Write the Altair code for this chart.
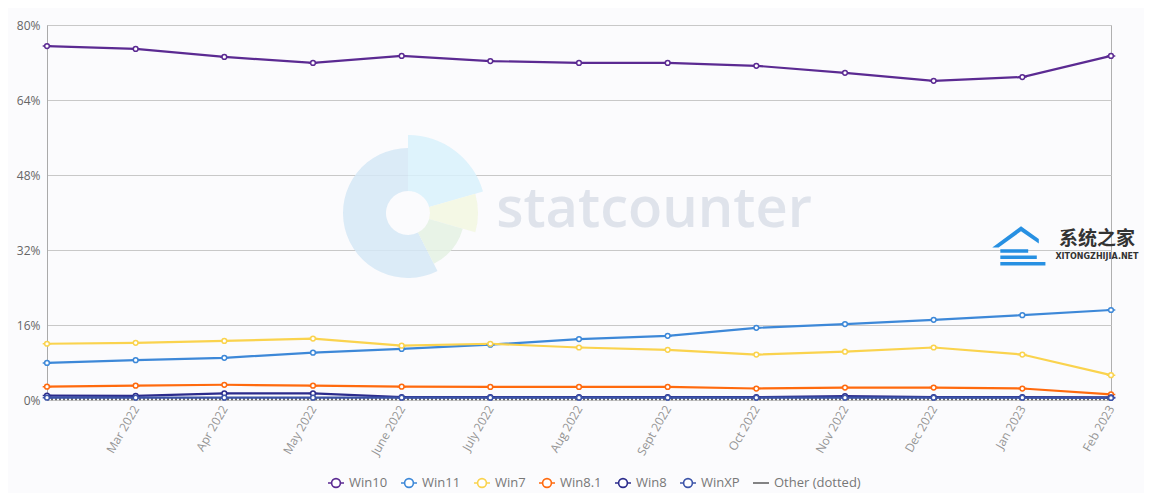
import math
import altair as alt
import pandas as pd

months = ["Feb 2022", "Mar 2022", "Apr 2022", "May 2022", "June 2022", "July 2022",
          "Aug 2022", "Sept 2022", "Oct 2022", "Nov 2022", "Dec 2022", "Jan 2023", "Feb 2023"]
series = ["Win10", "Win11", "Win7", "Win8.1", "Win8", "WinXP", "Other (dotted)"]
win10 = [75.5, 74.9, 73.2, 71.9, 73.4, 72.3, 71.9, 71.9, 71.3, 69.8, 68.1, 68.9, 73.4]
win11 = [7.9, 8.5, 9.0, 10.1, 10.9, 11.8, 13.0, 13.7, 15.4, 16.2, 17.1, 18.1, 19.2]
win7 = [12.0, 12.2, 12.6, 13.1, 11.6, 12.0, 11.2, 10.7, 9.7, 10.3, 11.2, 9.7, 5.3]
win81 = [2.85, 3.05, 3.25, 3.05, 2.85, 2.8, 2.8, 2.8, 2.45, 2.65, 2.65, 2.45, 1.2]
win8 = [0.95, 0.9, 1.4, 1.4, 0.6, 0.6, 0.6, 0.6, 0.6, 0.85, 0.6, 0.6, 0.55]
winxp = [0.5, 0.5, 0.5, 0.5, 0.5, 0.5, 0.5, 0.5, 0.5, 0.5, 0.5, 0.5, 0.45]
other = [0.2, 0.2, 0.2, 0.2, 0.2, 0.2, 0.2, 0.2, 0.2, 0.2, 0.2, 0.2, 0.2]
colors = ["#5b2a92", "#3d88d8", "#fad34e", "#ff6a0e", "#2b2b8c", "#3c54a8", "#666666"]
y_ticks = [0, 16, 32, 48, 64, 80]

rows = []
for name, vals in zip(series, [win10, win11, win7, win81, win8, winxp, other]):
    for i, (m, v) in enumerate(zip(months, vals)):
        rows.append({"month": m, "idx": i, "series": name, "value": v})
df = pd.DataFrame(rows)

x_enc = alt.X("month:O", sort=months, scale=alt.Scale(padding=0),
              axis=alt.Axis(values=months[1:], labelAngle=-60, title=None, ticks=False,
                            domain=False, labelColor="#949494", labelFontSize=12,
                            labelFont="Open Sans", labelPadding=6, grid=False))
y_enc = alt.Y("value:Q", scale=alt.Scale(domain=[0, 80], nice=False),
              axis=alt.Axis(values=y_ticks, labelExpr="datum.value + '%'", title=None,
                            ticks=False, domainColor="#aaaaaa", gridColor="#c8c8c8",
                            labelColor="#666666", labelFontSize=12, labelFont="Open Sans",
                            labelPadding=7))

circ = "M-1,0L-0.55,0M0.55,0L1,0M-0.55,0A0.55,0.55 0 1,1 0.55,0A0.55,0.55 0 1,1 -0.55,0Z"
shapes = [circ] * 6 + ["M-1,0L1,0"]

legend = alt.Legend(
    title=None, orient="none", direction="horizontal", legendX=280, legendY=449,
    labelFontSize=13, labelColor="#777777", labelFont="Open Sans", symbolSize=256,
    symbolStrokeWidth=1.6, columnPadding=9, labelOffset=4, symbolFillColor="white",
    gridAlign="none",
)

color_scale = alt.Scale(domain=series, range=colors)

lines = alt.Chart(df).transform_filter("datum.series !== 'Other (dotted)'").mark_line(strokeWidth=2.2).encode(
    x=x_enc, y=y_enc,
    color=alt.Color("series:N", sort=series, scale=color_scale, legend=legend),
    order=alt.Order("idx:Q"),
)

other_line = alt.Chart(df).transform_filter("datum.series === 'Other (dotted)'").mark_line(
    strokeWidth=2.2, strokeDash=[2, 2]
).encode(
    x=alt.X("month:O", sort=months), y="value:Q",
    color=alt.Color("series:N", sort=series, scale=color_scale, legend=legend),
    order=alt.Order("idx:Q"),
)

points = alt.Chart(df).transform_filter("datum.series !== 'Other (dotted)'").mark_point(
    filled=False, fill="white", size=74, strokeWidth=1.5, opacity=1
).encode(
    x=alt.X("month:O", sort=months), y="value:Q",
    color=alt.Color("series:N", sort=series, scale=color_scale, legend=legend),
    shape=alt.Shape("series:N", sort=series, scale=alt.Scale(domain=series, range=shapes), legend=legend),
)

# watermark (statcounter logo)
logo = pd.DataFrame({
    "t0": [math.radians(153), math.radians(0), math.radians(74), math.radians(106)],
    "t1": [math.radians(360), math.radians(74), math.radians(106), math.radians(153)],
    "r": [65, 78, 70, 57],
    "c": ["#d5e7f6", "#d8f1fb", "#f2f7e1", "#e4f1e3"],
})
arcs = alt.Chart(logo).mark_arc(opacity=0.85).encode(
    theta=alt.Theta("t0:Q", scale=None), theta2="t1:Q",
    radius=alt.Radius("r:Q", scale=None), radius2=alt.value(22),
    x=alt.value(361), y=alt.value(188),
    fill=alt.Fill("c:N", scale=None),
)
wm = pd.DataFrame({"t": ["statcounter"]})
wm_text = alt.Chart(wm).mark_text(fontSize=56, font="Open Sans", fontWeight=600,
                                  color="#dce1ea", opacity=0.9, baseline="middle").encode(
    text="t:N", x=alt.value(607), y=alt.value(185))

# watermark (系统之家)
house_path = ("M-1,0.02L0,-0.72L0.62,-0.28L0.62,-0.12L0,-0.55L-0.78,0.02Z"
              "M-0.72,0.08L0.25,0.08L0.25,0.2L-0.72,0.2Z"
              "M-0.72,0.3L0.55,0.3L0.55,0.42L-0.72,0.42Z"
              "M-0.72,0.52L0.85,0.52L0.85,0.64L-0.72,0.64Z")
house = pd.DataFrame({"k": ["icon"]})
house_mark = alt.Chart(house).mark_point(shape=house_path, filled=True, fill="#1b8ae0",
                                         size=3300, opacity=0.95, strokeWidth=0).encode(
    x=alt.value(974), y=alt.value(222))
xt = pd.DataFrame({"t": ["系统之家"]})
xt_text = alt.Chart(xt).mark_text(fontSize=19, font="Noto Sans CJK SC", fontWeight="bold",
                                  color="#333333", baseline="middle").encode(
    text="t:N", x=alt.value(1050), y=alt.value(214))
xn = pd.DataFrame({"t": ["XITONGZHIJIA.NET"]})
xn_text = alt.Chart(xn).mark_text(fontSize=8, font="DejaVu Sans", fontWeight="bold",
                                  color="#333333", baseline="middle").encode(
    text="t:N", x=alt.value(1050), y=alt.value(232))

chart = alt.layer(arcs, wm_text, other_line, lines, points, house_mark, xt_text, xn_text).properties(
    width=1064, height=375,
    autosize=alt.AutoSizeParams(type="none"),
    padding={"left": 39, "top": 17, "right": 33, "bottom": 93},
    background="#fbfbfd",
).configure_view(stroke="#b0b0b0", strokeWidth=1)

chart.save("out.html", embed_options={"renderer": "svg", "actions": False})
